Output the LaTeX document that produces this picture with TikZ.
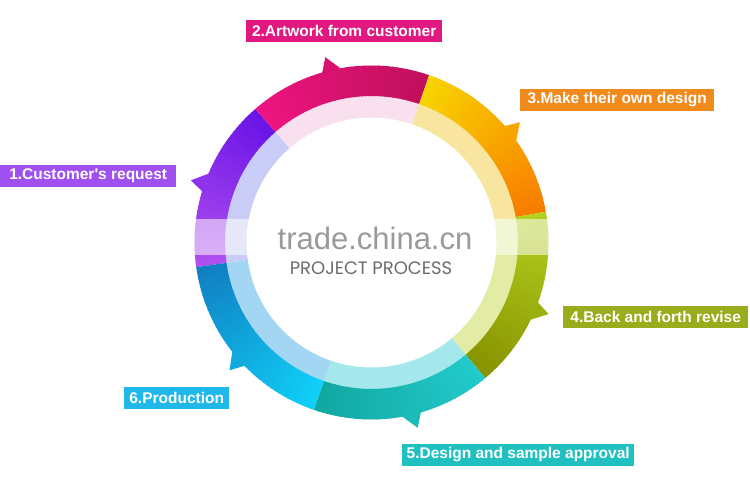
\documentclass[tikz,border=0pt]{standalone}
\usepackage{fontspec}
\setmainfont{Liberation Sans}
\newfontfamily\poppfont{Poppins}
% ring colours
\definecolor{purA}{HTML}{6A14E6}\definecolor{purB}{HTML}{B050F0}\definecolor{purL}{HTML}{C8CCF6}
\definecolor{pnkA}{HTML}{C0105C}\definecolor{pnkB}{HTML}{EE1480}\definecolor{pnkL}{HTML}{F8E0EE}
\definecolor{yelA}{HTML}{F87C00}\definecolor{yelB}{HTML}{F8D400}\definecolor{yelL}{HTML}{F8E6A0}
\definecolor{grnA}{HTML}{889400}\definecolor{grnB}{HTML}{B4D020}\definecolor{grnL}{HTML}{E2ECA4}
\definecolor{tealA}{HTML}{12A8A2}\definecolor{tealB}{HTML}{22CACA}\definecolor{tealL}{HTML}{A4E8EC}
\definecolor{bluA}{HTML}{1080C2}\definecolor{bluB}{HTML}{10D0F8}\definecolor{bluL}{HTML}{A2D6F2}
% label colours
\definecolor{labA}{HTML}{A050F0}
\definecolor{labB}{HTML}{E0187F}
\definecolor{labC}{HTML}{F08A1C}
\definecolor{labD}{HTML}{9AAC1C}
\definecolor{labE}{HTML}{20C0C0}
\definecolor{labF}{HTML}{20B8E8}
\definecolor{markgray}{HTML}{9A9A9A}
\definecolor{titlegray}{HTML}{6C6C6C}
\tikzset{
  lbl/.style={fill=#1, text=white, font=\bfseries\fontsize{15.5}{18}\selectfont,
    minimum height=22pt, inner xsep=4pt, inner ysep=0pt, anchor=west},
}
% start, end, colour at start, colour at end, light colour, notch angle
\newcommand\ringpart[6]{%
  \fill[#5] (#1:125pt) arc[start angle=#1,end angle=#2,radius=125pt]
     -- (#2:147pt) arc[start angle=#2,end angle=#1,radius=147pt] -- cycle;
  \foreach \k in {0,...,39}{%
    \pgfmathsetmacro\aa{#1+(#2-#1)*\k/40}%
    \pgfmathsetmacro\bb{min(#1+(#2-#1)*(\k+1)/40+0.4,#2)}%
    \pgfmathtruncatemacro\pp{100*\k/39}%
    \fill[#4!\pp!#3] (\aa:146.5pt) arc[start angle=\aa,end angle=\bb,radius=146.5pt]
       -- (\bb:177pt) arc[start angle=\bb,end angle=\aa,radius=177pt] -- cycle;
  }%
  \pgfmathtruncatemacro\pn{100*(#6-#1)/(#2-#1)}%
  \fill[#4!\pn!#3] ({#6+2.5}:175pt) -- (#6:191pt) -- ({#6-4.5}:175pt) -- cycle;
}
\begin{document}
\begin{tikzpicture}
\useasboundingbox (0,0) rectangle (750pt,500pt);
\fill[white] (0,0) rectangle (750pt,500pt);
\begin{scope}[shift={(371.5pt,257.5pt)}]
  \ringpart{131}{188}{purA}{purB}{purL}{161}
  \ringpart{71}{131}{pnkA}{pnkB}{pnkL}{104}
  \ringpart{10}{71}{yelA}{yelB}{yelL}{39}
  \ringpart{-50}{10}{grnA}{grnB}{grnL}{-22}
  \ringpart{-109}{-50}{tealA}{tealB}{tealL}{-76}
  \ringpart{-172}{-109}{bluA}{bluB}{bluL}{-138}
\end{scope}
% watermark band
\fill[white, opacity=0.55] (186pt,245pt) rectangle (560pt,281pt);
\node[anchor=base, text=markgray, font=\fontsize{31}{34}\selectfont, inner sep=0pt] (wm) at (375pt,250pt) {trade.china.cn};
\node[anchor=base, text=titlegray, font=\poppfont\fontsize{18}{21}\selectfont, inner sep=0pt] (title) at (371pt,225pt) {PROJECT PROCESS};
% labels
\node[lbl=labA, minimum width=176pt] (l1) at (0pt,324pt) {1.Customer\textquotesingle s request};
\node[lbl=labB, minimum width=196pt] (l2) at (246pt,469pt) {2.Artwork from customer};
\node[lbl=labC, minimum width=194pt] (l3) at (520pt,400pt) {3.Make their own design};
\node[lbl=labD, minimum width=185pt] (l4) at (563pt,183pt) {4.Back and forth revise};
\node[lbl=labE, minimum width=232pt] (l5) at (402pt,45pt) {5.Design and sample approval};
\node[lbl=labF, minimum width=105pt] (l6) at (124pt,102pt) {6.Production};
\end{tikzpicture}
\end{document}
